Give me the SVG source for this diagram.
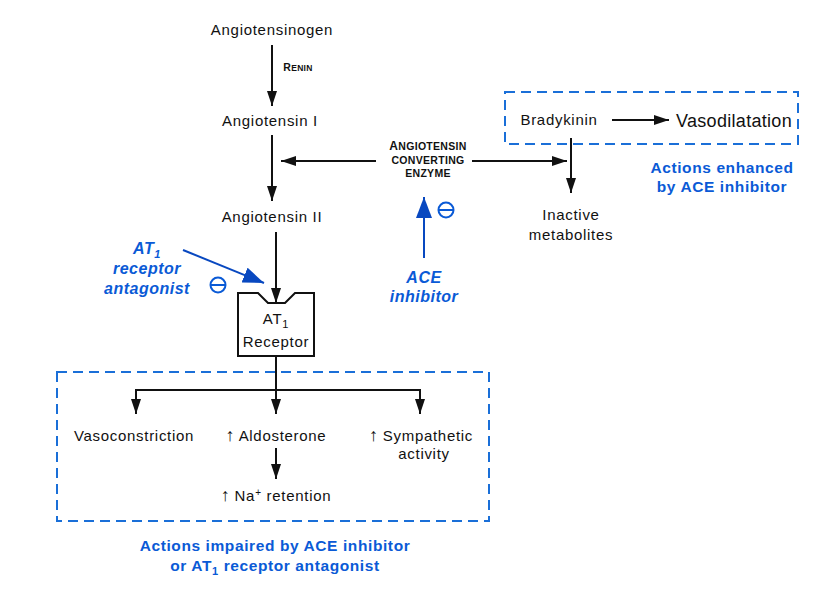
<svg xmlns="http://www.w3.org/2000/svg" width="829" height="610" viewBox="0 0 829 610">
<defs>
<marker id="ah" viewBox="0 0 15 10" refX="15" refY="5" markerWidth="15" markerHeight="10" markerUnits="userSpaceOnUse" orient="auto"><path d="M0,0 L15,5 L0,10 Z" fill="#111"/></marker>
<marker id="ahb" viewBox="0 0 21 16" refX="21" refY="8" markerWidth="21" markerHeight="16" markerUnits="userSpaceOnUse" orient="auto"><path d="M0,0 L21,8 L0,16 Z" fill="#0848c0"/></marker>
</defs>
<style>
.t{font-family:"Liberation Sans",Arial,sans-serif;font-size:15px;letter-spacing:0.7px;fill:#111;text-anchor:middle}
.sc{font-family:"Liberation Sans",Arial,sans-serif;font-size:10.5px;font-weight:bold;letter-spacing:0.3px;fill:#111;text-anchor:middle}
.bl{font-family:"Liberation Sans",Arial,sans-serif;font-size:15.5px;font-weight:bold;letter-spacing:0.6px;fill:#0a5ad6;text-anchor:middle}
.bi{font-family:"Liberation Sans",Arial,sans-serif;font-size:16px;font-weight:bold;font-style:italic;letter-spacing:0.5px;fill:#0a5ad6;text-anchor:middle}
.up{font-size:18px;letter-spacing:0}
.ln{stroke:#111;stroke-width:2;fill:none}
.bln{stroke:#0848c0;stroke-width:2;fill:none}
.dash{stroke:#1a6fd8;stroke-width:2;fill:none;stroke-dasharray:10,6}
.minus{stroke:#0a5ad6;stroke-width:2;fill:none}
</style>
<rect width="829" height="610" fill="#fff"/>

<g id="connectors">
<line class="ln" x1="272" y1="45" x2="272" y2="106" marker-end="url(#ah)"/>
<line class="ln" x1="272" y1="135" x2="272" y2="201" marker-end="url(#ah)"/>
<line class="ln" x1="376" y1="161" x2="281" y2="161" marker-end="url(#ah)"/>
<line class="ln" x1="472" y1="161" x2="567" y2="161" marker-end="url(#ah)"/>
<line class="ln" x1="612" y1="120" x2="669" y2="120" marker-end="url(#ah)"/>
<line class="ln" x1="571" y1="138" x2="571" y2="193" marker-end="url(#ah)"/>
<line class="ln" x1="276" y1="232" x2="276" y2="303" marker-end="url(#ah)"/>
<line class="ln" x1="276" y1="357" x2="276" y2="414" marker-end="url(#ah)"/>
<polyline class="ln" points="136,405 136,390 420,390 420,405"/>
<line class="ln" x1="136" y1="398" x2="136" y2="414" marker-end="url(#ah)"/>
<line class="ln" x1="420" y1="398" x2="420" y2="414" marker-end="url(#ah)"/>
<line class="ln" x1="276" y1="448" x2="276" y2="479" marker-end="url(#ah)"/>
<line class="bln" x1="424" y1="258" x2="424" y2="197" marker-end="url(#ahb)"/>
<line class="bln" x1="183" y1="250" x2="264" y2="283" marker-end="url(#ahb)"/>
</g>

<g id="angiotensinogen"><text class="t" x="272" y="35">Angiotensinogen</text></g>
<g id="renin"><text class="sc" x="298" y="71" style="font-size:10.5px">R<tspan font-size="8.5">ENIN</tspan></text></g>
<g id="angiotensin-i"><text class="t" x="270" y="126">Angiotensin I</text></g>
<g id="angiotensin-ii"><text class="t" x="272" y="222">Angiotensin II</text></g>
<g id="ace">
<text class="sc" x="428" y="150" style="font-size:12px">A<tspan font-size="10.5">NGIOTENSIN</tspan></text>
<text class="sc" x="428" y="164">CONVERTING</text>
<text class="sc" x="428" y="177">ENZYME</text>
</g>

<g id="bradykinin-box">
<rect class="dash" x="505" y="92" width="293" height="52"/>
<text class="t" x="559" y="125">Bradykinin</text>
<text class="t" x="734" y="127" style="font-size:18px;letter-spacing:0.3px">Vasodilatation</text>
<text class="bl" x="722" y="173">Actions enhanced</text>
<text class="bl" x="722" y="192">by ACE inhibitor</text>
</g>

<g id="inactive-metabolites">
<text class="t" x="571" y="220">Inactive</text>
<text class="t" x="571" y="240">metabolites</text>
</g>

<g id="ace-inhibitor">
<circle class="minus" cx="446" cy="210" r="7.5"/><line class="minus" x1="439" y1="210" x2="453" y2="210"/>
<text class="bi" x="424" y="283">ACE</text>
<text class="bi" x="424" y="302">inhibitor</text>
</g>

<g id="at1-antagonist">
<text class="bi" x="147" y="254">AT<tspan font-size="11" dy="4">1</tspan></text>
<text class="bi" x="147" y="274">receptor</text>
<text class="bi" x="147" y="294">antagonist</text>
<circle class="minus" cx="218" cy="285" r="7.5"/><line class="minus" x1="211" y1="285" x2="225" y2="285"/>
</g>

<g id="at1-receptor">
<path class="ln" d="M238,293 L258,293 L268,303 L285,303 L295,293 L314,293 L314,356 L238,356 Z" stroke-width="1.8"/>
<text class="t" x="276" y="324">AT<tspan font-size="11" dy="4">1</tspan></text>
<text class="t" x="276" y="347">Receptor</text>
</g>

<g id="effects-box">
<rect class="dash" x="57" y="372" width="432" height="149"/>
<text class="t" x="134" y="441">Vasoconstriction</text>
<text class="t" x="276" y="441"><tspan class="up">↑</tspan> Aldosterone</text>
<text class="t" x="421" y="441"><tspan class="up">↑</tspan> Sympathetic</text>
<text class="t" x="424" y="459">activity</text>
<text class="t" x="276" y="501"><tspan class="up">↑</tspan> Na<tspan font-size="10" dy="-5">+</tspan><tspan dy="5"> retention</tspan></text>
<text class="bl" x="275" y="551">Actions impaired by ACE inhibitor</text>
<text class="bl" x="275" y="571">or AT<tspan font-size="11" dy="4">1</tspan><tspan dy="-4"> receptor antagonist</tspan></text>
</g>
</svg>
